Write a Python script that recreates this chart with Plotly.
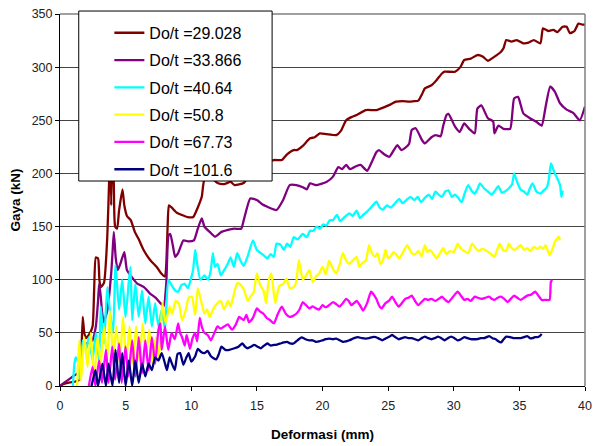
import plotly.graph_objects as go

# ---------------- data ----------------
names = ["Do/t =29.028", "Do/t =33.866", "Do/t =40.64", "Do/t =50.8", "Do/t =67.73", "Do/t =101.6"]
colors = ["#800000", "#800080", "#00FFFF", "#FFFF00", "#FF00FF", "#000080"]

x_2903 = [0, 0.3, 0.6, 1.1, 1.5, 1.6, 1.73, 1.85, 1.98, 2.2, 2.48, 2.6, 2.73, 2.9, 3.0, 3.1, 3.35, 3.6, 3.76, 3.82, 3.9, 4.0, 4.1, 4.2, 4.35, 4.5, 4.76, 4.9, 5.1, 5.39, 5.7, 6.0, 6.37, 6.9, 7.37, 7.7, 8.0, 8.1, 8.2, 8.3, 8.5, 8.9, 9.27, 9.7, 10.15, 10.5, 10.8, 11.0, 11.5, 12.0, 12.5, 13.0, 13.3, 14.0, 14.5, 15.0, 15.5, 16.3, 16.9, 17.3, 17.8, 18.05, 18.5, 19.05, 19.4, 19.8, 20.3, 21.05, 21.4, 21.8, 22.2, 22.6, 23.3, 24.1, 24.8, 25.2, 25.6, 26.1, 26.6, 27.0, 27.3, 27.6, 27.8, 28.3, 28.7, 29.1, 29.3, 30.1, 30.5, 30.8, 31.3, 31.8, 32.2, 32.6, 33.0, 33.6, 33.8, 34.0, 34.4, 34.8, 35.3, 35.7, 36.1, 36.6, 36.8, 37.2, 37.6, 37.9, 38.3, 38.6, 38.85, 39.2, 39.5, 39.8, 40.0]
y_2903 = [0, 2, 3, 4, 6, 20, 65, 50, 45, 48, 56, 90, 121, 120, 100, 93, 97, 140, 200, 240, 170, 250, 190, 150, 148, 165, 185, 170, 160, 156, 145, 138, 128, 118, 112, 106, 103, 115, 150, 170, 168, 163, 161, 159, 159, 168, 178, 194, 196, 191, 190, 192, 189, 191, 200, 206, 210, 212.6, 212.6, 218, 222, 222, 226, 233, 234, 237.7, 237, 236, 240, 250, 253, 255, 259.6, 259.6, 262.8, 265, 267.5, 268, 267.5, 268, 268.5, 275, 280, 283, 288, 294, 295.7, 295.7, 300, 306.7, 308, 311.4, 310, 306, 309, 314.5, 318, 325.5, 324, 325.5, 322.4, 323, 325.5, 322.4, 336.5, 334, 335, 333, 338, 338, 332, 334, 341, 340, 340]

x_3387 = [0, 0.1, 0.6, 1.1, 1.5, 1.6, 1.73, 1.9, 2.1, 2.48, 2.73, 2.9, 2.98, 3.1, 3.2, 3.33, 3.6, 3.9, 4.0, 4.1, 4.25, 4.4, 4.6, 4.9, 5.1, 5.5, 5.86, 6.4, 6.86, 7.3, 7.65, 7.9, 8.1, 8.27, 8.4, 8.6, 8.77, 9.0, 9.4, 9.8, 10.2, 10.5, 10.8, 11.0, 11.4, 11.8, 12.3, 12.8, 13.3, 13.8, 14.0, 14.5, 15.0, 15.4, 15.8, 16.5, 17.0, 17.5, 18.0, 18.5, 18.8, 19.05, 19.5, 20.3, 20.8, 21.2, 21.5, 21.8, 22.1, 22.6, 22.9, 23.4, 23.8, 24.1, 24.3, 24.7, 25.1, 25.7, 26.0, 26.3, 26.6, 26.8, 27.1, 27.6, 27.8, 28.3, 28.6, 29.0, 29.2, 29.45, 29.6, 30.1, 30.45, 30.8, 31.2, 31.6, 31.8, 32.1, 32.6, 33.0, 33.1, 33.4, 33.8, 34.3, 34.6, 34.9, 35.3, 35.8, 36.3, 36.7, 37.0, 37.35, 37.7, 38.1, 38.6, 39.1, 39.6, 40.0]
y_3387 = [0, 1, 5.6, 10, 13, 17, 37, 40, 40, 43, 56, 80, 96, 85, 70, 60, 71, 106, 125, 145, 120, 109, 115, 126, 109, 102, 96.6, 93, 87, 83, 78, 75, 97, 142, 143, 132, 121.6, 125, 137, 136, 137, 148, 157.7, 150, 145, 140.5, 145, 147, 148, 148, 156, 176.5, 175, 171, 168.6, 165.6, 175, 189, 189, 187, 185, 190.7, 189, 192, 197, 206, 204, 208, 204, 207, 208, 202.5, 212, 220, 222, 218, 215.7, 226.7, 222, 224, 228, 240.8, 242.5, 231, 228.3, 234, 236, 235, 245, 255, 256, 244, 239, 247, 241.5, 237.7, 261, 264, 252, 249, 237.7, 245, 242, 242, 270.6, 272, 256.5, 252, 248.6, 245, 262.8, 281.6, 277, 266, 260, 257, 250, 263]

x_4064 = [0.98, 1.1, 1.2, 1.35, 1.5, 1.73, 1.98, 2.2, 2.48, 2.73, 2.98, 3.1, 3.35, 3.6, 3.85, 4.05, 4.23, 4.5, 4.74, 4.99, 5.24, 5.37, 5.5, 5.74, 6.0, 6.25, 6.5, 6.75, 7.0, 7.25, 7.5, 7.75, 8.0, 8.25, 8.5, 8.77, 9.0, 9.25, 9.5, 9.75, 10.0, 10.15, 10.3, 10.45, 10.7, 11.0, 11.3, 11.5, 11.65, 11.8, 12.0, 12.25, 12.5, 12.75, 13.0, 13.25, 13.5, 13.75, 14.0, 14.3, 14.7, 15.0, 15.3, 15.6, 15.8, 16.05, 16.3, 16.5, 16.8, 17.05, 17.3, 17.55, 17.8, 18.1, 18.5, 18.8, 19.05, 19.3, 19.55, 19.8, 20.05, 20.3, 20.55, 20.8, 21.1, 21.35, 21.6, 22.05, 22.3, 22.6, 22.85, 23.1, 23.4, 23.7, 24.1, 24.35, 24.6, 24.9, 25.2, 25.6, 25.85, 26.1, 26.4, 26.7, 27.0, 27.25, 27.5, 27.8, 28.1, 28.35, 28.6, 28.85, 29.1, 29.35, 29.6, 29.85, 30.1, 30.35, 30.6, 30.85, 31.1, 31.35, 31.6, 31.8, 32.0, 32.3, 32.6, 32.9, 33.15, 33.4, 33.65, 33.9, 34.2, 34.45, 34.6, 34.8, 35.1, 35.35, 35.6, 35.8, 36.0, 36.3, 36.6, 36.85, 37.1, 37.25, 37.4, 37.55, 37.7, 37.9, 38.1, 38.2, 38.3]
y_4064 = [0, 21, 27, 24, 6, 43, 34, 46, 24, 50, 24, 75, 40, 93, 65, 50, 114, 72, 100, 65, 98, 112, 62, 96, 65, 90, 59, 84, 56, 78, 56, 72, 53, 100, 95, 90, 88.7, 95, 96, 92, 102, 110, 128, 115, 100, 104, 100, 110, 125, 112, 115, 104, 109, 114, 121, 112, 125, 118, 113, 122, 137, 128, 125, 122, 120, 124, 121.6, 134, 133, 128, 134, 131, 140, 138, 143, 140, 146, 146, 150, 148, 152, 151, 156, 156, 161, 155, 158, 162.5, 160, 165, 158, 161, 164, 168, 173.4, 168, 166, 170, 168, 173, 176, 172, 175, 178, 175, 178, 173, 177, 180, 176, 182.8, 180, 178, 183, 184, 178, 180, 177, 173, 182, 189, 184, 181, 185, 190.7, 186, 183, 180, 184, 188, 182, 183, 186, 190, 200, 193, 184.6, 183, 180, 186, 190.7, 183, 181, 184, 187, 195, 209.5, 205, 200, 195, 189, 178, 184]

x_508 = [1.3, 1.48, 1.6, 1.85, 2.1, 2.35, 2.6, 2.85, 3.1, 3.35, 3.6, 3.8, 4.05, 4.3, 4.55, 4.8, 5.05, 5.3, 5.55, 5.8, 6.05, 6.3, 6.55, 6.8, 7.05, 7.3, 7.55, 7.8, 8.05, 8.35, 8.55, 8.8, 9.05, 9.3, 9.55, 9.8, 10.05, 10.3, 10.5, 10.75, 11.0, 11.2, 11.4, 11.7, 12.0, 12.25, 12.5, 12.8, 13.0, 13.2, 13.5, 13.7, 14.0, 14.3, 14.5, 14.75, 15.0, 15.25, 15.5, 15.7, 15.9, 16.1, 16.4, 16.7, 17.0, 17.25, 17.5, 17.8, 18.0, 18.2, 18.5, 18.75, 19.0, 19.25, 19.5, 19.75, 20.0, 20.25, 20.5, 20.8, 21.05, 21.3, 21.55, 21.8, 22.05, 22.3, 22.6, 22.8, 23.05, 23.3, 23.55, 23.8, 24.0, 24.2, 24.4, 24.6, 24.8, 25.0, 25.2, 25.4, 25.6, 25.85, 26.1, 26.45, 26.8, 27.05, 27.3, 27.55, 27.8, 28.0, 28.2, 28.45, 28.7, 28.95, 29.2, 29.45, 29.7, 30.0, 30.3, 30.55, 30.8, 31.1, 31.4, 31.65, 31.9, 32.15, 32.4, 32.75, 33.1, 33.3, 33.5, 33.75, 34.0, 34.2, 34.4, 34.6, 34.85, 35.1, 35.35, 35.6, 35.85, 36.1, 36.35, 36.6, 36.8, 37.0, 37.3, 37.5, 37.7, 38.0, 38.1]
y_508 = [0, 43, 5, 46, 18, 50, 5, 46, 21, 56, 24, 71, 27, 56, 21, 65, 24, 56, 21, 56, 24, 59, 27, 53, 21, 46, 27, 78, 59, 75, 68, 80, 78, 62, 70, 83, 84, 67, 92, 80, 68, 72, 65, 73, 78, 80, 72, 80, 75, 84, 96.6, 96, 91, 80, 84, 88, 106, 95, 90, 78, 99, 106, 78, 94, 96, 101, 92, 93, 98, 118.5, 100, 104, 109, 98, 103, 106, 112, 105, 118, 110, 106, 114, 125, 118, 115, 118, 121.6, 112, 116, 118, 132.6, 124, 121.6, 125, 115, 118, 128, 120, 122, 126, 124, 120, 125, 132.6, 125, 124, 127, 122, 132.6, 126, 128, 124, 120, 125, 129.6, 124, 127, 126, 134, 129, 127, 125, 134, 130, 127, 129, 128, 125, 121.6, 128, 134, 128, 127, 134, 130, 128, 130, 132.6, 128, 129.6, 127, 131, 129, 131, 129, 132.6, 123, 128, 135.7, 140.5, 137]

x_6773 = [2.2, 2.48, 2.7, 2.98, 3.2, 3.5, 3.7, 3.98, 4.2, 4.5, 4.7, 4.99, 5.2, 5.5, 5.74, 6.0, 6.25, 6.5, 6.75, 7.0, 7.25, 7.5, 7.65, 7.75, 8.0, 8.25, 8.5, 8.75, 9.0, 9.15, 9.3, 9.5, 9.65, 9.9, 10.1, 10.3, 10.45, 10.65, 10.8, 11.0, 11.25, 11.5, 11.8, 12.0, 12.25, 12.5, 12.8, 13.1, 13.4, 13.65, 14.0, 14.2, 14.4, 14.7, 15.0, 15.25, 15.5, 15.75, 16.0, 16.3, 16.6, 16.9, 17.2, 17.5, 17.75, 18.0, 18.25, 18.5, 18.75, 19.0, 19.25, 19.5, 19.75, 20.0, 20.25, 20.5, 20.8, 21.05, 21.3, 21.55, 21.8, 22.0, 22.2, 22.4, 22.6, 22.85, 23.1, 23.4, 23.7, 23.9, 24.1, 24.3, 24.5, 24.8, 25.05, 25.3, 25.55, 25.8, 26.05, 26.3, 26.55, 26.8, 27.05, 27.3, 27.55, 27.8, 28.05, 28.3, 28.6, 28.85, 29.1, 29.35, 29.6, 29.95, 30.3, 30.55, 30.8, 31.05, 31.3, 31.6, 31.85, 32.1, 32.4, 32.7, 32.9, 33.1, 33.35, 33.6, 33.85, 34.1, 34.35, 34.6, 34.85, 35.1, 35.35, 35.6, 35.9, 36.2, 36.45, 36.7, 37.0, 37.3, 37.4, 37.5]
y_6773 = [0, 18, 0, 24, 3, 34, 3, 37, 6, 40, 3, 37, 9, 43, 9, 46, 12, 43, 15, 46, 21, 53, 59, 34, 56, 34, 50, 44, 59, 50, 46, 38, 48, 35, 45, 50, 42, 64, 56, 50, 48, 43, 51, 56, 54, 56, 58, 53, 58, 65, 62, 67, 60, 64, 73, 70, 68, 64, 62, 59, 68, 74.6, 68, 65, 66, 68, 72, 79, 76, 73, 75, 73, 72, 76, 74, 76, 79, 77, 74.6, 78, 82, 80, 76, 78, 80, 76, 71, 78, 88.7, 86, 82, 76, 73, 78, 80, 84, 79, 74.6, 78, 82, 83, 85, 80, 76, 79, 82, 81, 82, 80, 82, 84, 81, 79, 84, 88.7, 85, 81, 82, 80, 84, 83, 82, 83, 84, 82, 81, 83, 84, 82, 79, 82, 85, 83, 81, 83, 85, 86, 88.7, 85, 81, 81, 81, 98, 99.7]

x_1016 = [2.4, 2.55, 2.7, 2.9, 3.23, 3.5, 3.7, 4.0, 4.23, 4.5, 4.74, 5.0, 5.24, 5.5, 5.74, 6.0, 6.25, 6.5, 6.75, 7.0, 7.25, 7.5, 7.75, 8.0, 8.15, 8.35, 8.5, 8.75, 8.95, 9.15, 9.4, 9.6, 9.8, 10.0, 10.3, 10.5, 10.75, 11.0, 11.25, 11.5, 11.9, 12.1, 12.3, 12.6, 12.9, 13.3, 13.6, 13.9, 14.1, 14.3, 14.55, 14.8, 15.05, 15.3, 15.55, 15.8, 16.05, 16.3, 16.55, 16.8, 17.05, 17.3, 17.55, 17.8, 18.1, 18.4, 18.7, 19.0, 19.25, 19.5, 19.75, 20.0, 20.25, 20.5, 20.8, 21.05, 21.3, 21.55, 21.8, 22.05, 22.4, 22.7, 23.0, 23.3, 23.55, 23.8, 24.05, 24.3, 24.55, 24.8, 25.05, 25.3, 25.55, 25.8, 26.05, 26.3, 26.55, 26.8, 27.05, 27.3, 27.55, 27.8, 28.05, 28.3, 28.55, 28.8, 29.05, 29.3, 29.55, 29.8, 30.05, 30.3, 30.55, 30.8, 31.05, 31.3, 31.55, 31.8, 32.05, 32.3, 32.5, 32.7, 32.95, 33.2, 33.4, 33.6, 33.8, 34.0, 34.3, 34.6, 34.85, 35.1, 35.35, 35.6, 35.8, 36.0, 36.2, 36.4, 36.55, 36.7]
y_1016 = [0, 8, 15, 0, 21, 0, 21, 0, 34, 3, 31, 0, 24, 0, 24, 3, 21, 9, 21, 15, 27, 24, 31, 21, 15, 27, 22, 15, 30, 31, 20, 26, 31, 23, 28, 35, 32, 31, 33, 28, 25, 30, 37, 34, 34, 35.5, 37, 40, 37, 35.5, 37, 38.6, 37, 35.5, 38, 40, 38, 38.6, 39, 40, 41, 41.6, 40, 40, 43, 45.7, 44, 43, 43, 41.6, 42, 43, 44, 44.6, 44, 44.6, 43, 41.6, 42, 43, 45, 46, 45, 44.6, 45, 46, 46, 44.6, 43, 44.6, 46, 48, 46, 44, 45, 46, 45, 45, 44, 43, 45, 46.4, 45, 44, 45, 46.4, 45, 43, 45, 46.4, 45, 43, 44, 46, 45, 44, 44, 44, 45, 45, 46, 47, 45, 44, 42, 41, 44, 46.4, 46, 45, 45, 45, 46, 47, 45, 45, 46, 46, 47, 49]

series_x = [x_2903, x_3387, x_4064, x_508, x_6773, x_1016]
series_y = [y_2903, y_3387, y_4064, y_508, y_6773, y_1016]

x_ticks = [0, 5, 10, 15, 20, 25, 30, 35, 40]
y_ticks = [0, 50, 100, 150, 200, 250, 300, 350]

# ---------------- figure ----------------
fig = go.Figure()
for i in range(len(names)):
    fig.add_trace(go.Scatter(
        x=series_x[i], y=series_y[i], mode="lines", name=names[i],
        legendgroup=f"g{i}",
        line=dict(color=colors[i], width=2.3, shape="spline", smoothing=0.5),
    ))

FONT = "Liberation Sans, Arial, sans-serif"

fig.update_layout(
    width=599, height=446,
    margin=dict(l=60, r=7, t=14, b=60),
    paper_bgcolor="white", plot_bgcolor="white",
    font=dict(family=FONT, color="#000000", size=12.5),
    showlegend=True,
    legend=dict(
        x=0.094, y=0.995, xanchor="left", yanchor="top",
        bgcolor="rgba(0,0,0,0)", borderwidth=0,
        font=dict(family=FONT, size=16, color="#000000"),
        traceorder="grouped", tracegroupgap=3.5,
    ),
    xaxis=dict(
        range=[0, 40], tickvals=x_ticks, ticks="outside", ticklen=4,
        tickcolor="#000000", showline=True, linecolor="#000000", linewidth=1,
        showgrid=False, zeroline=False, ticklabelstandoff=4,
        tickfont=dict(size=12.5, color="#222222"),
        title=dict(text="<b>Deformasi (mm)</b>", font=dict(size=13.5), standoff=17),
    ),
    yaxis=dict(
        range=[0, 350], tickvals=y_ticks, ticks="outside", ticklen=4,
        tickcolor="#000000", showline=True, linecolor="#000000", linewidth=1,
        showgrid=True, gridcolor="#444444", gridwidth=1, zeroline=False,
        tickfont=dict(size=12.5, color="#222222"),
        title=dict(text="<b>Gaya (kN)</b>", font=dict(size=13.5), standoff=7),
    ),
    shapes=[
        # plot-area frame (top/right are grey in the reference)
        dict(type="line", xref="paper", yref="paper", x0=0, x1=1, y0=1, y1=1,
             line=dict(color="#808080", width=1.5), layer="above"),
        dict(type="line", xref="paper", yref="paper", x0=1, x1=1, y0=0, y1=1,
             line=dict(color="#808080", width=1.5), layer="above"),
        # legend box
        dict(type="rect", xref="paper", yref="paper",
             x0=0.0357, x1=0.404, y0=0.551, y1=1.008,
             fillcolor="white", line=dict(color="#000000", width=1), layer="above"),
    ],
)

fig.write_html("out.html")
